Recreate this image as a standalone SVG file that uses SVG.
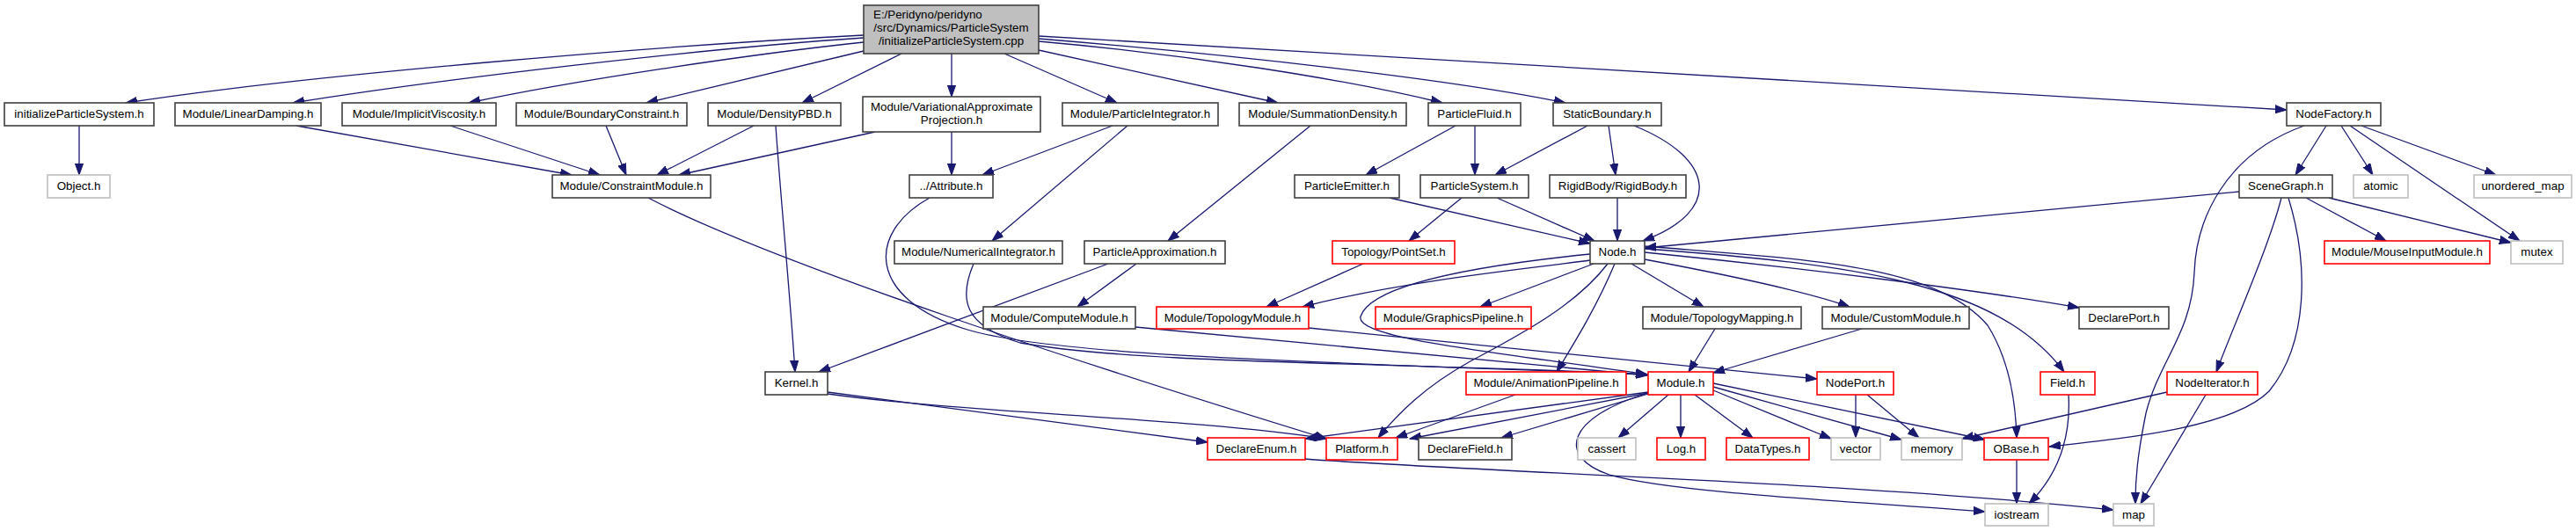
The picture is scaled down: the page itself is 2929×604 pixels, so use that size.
<svg xmlns="http://www.w3.org/2000/svg" width="2929" height="604" viewBox="0 0 2929 604">
<style>
text{font-family:"Liberation Sans",Arial,sans-serif;font-size:13.33px;text-anchor:middle;fill:#000}
.n rect{fill:#fff;stroke:#404040;stroke-width:1.6}
.r rect{fill:#fff;stroke:#f00;stroke-width:1.6}
.g rect{fill:#fff;stroke:#bfbfbf;stroke-width:1.6}
.top rect{fill:#bfbfbf;stroke:#404040;stroke-width:1.6}
#edges path{fill:none;stroke:#191970;stroke-width:1.3;marker-end:url(#ah)}
</style>
<defs>
<marker id="ah" markerWidth="14" markerHeight="10" refX="13" refY="5" orient="auto" markerUnits="userSpaceOnUse">
<path d="M0,0.4 L13,5 L0,9.6 z" fill="#191970" stroke="#191970" stroke-width="1"/>
</marker>
</defs>
<rect width="2929" height="604" fill="#fff"/>
<g id="edges">
<path d="M982,40 C750,52 350,85 143,117"/>
<path d="M982,43 C800,55 500,90 333,117"/>
<path d="M982,48 C850,62 650,92 533,117"/>
<path d="M982,58 L735,117"/>
<path d="M1025,61 L912,117"/>
<path d="M1082,61 L1082,110"/>
<path d="M1142,61 L1270,117"/>
<path d="M1181,57 L1453,117"/>
<path d="M1181,47 C1350,62 1530,90 1640,117"/>
<path d="M1181,44 C1400,62 1650,90 1780,117"/>
<path d="M1181,41 L2600,125"/>
<path d="M90,143 L90,199"/>
<path d="M337,143 L650,199"/>
<path d="M512,143 L682,199"/>
<path d="M689,143 L712,199"/>
<path d="M857,143 L747,199"/>
<path d="M995,150 L772,199"/>
<path d="M882,143 C888,230 898,330 904,423"/>
<path d="M1082,150 L1082,199"/>
<path d="M1265,143 L1117,199"/>
<path d="M1282,143 L1128,274"/>
<path d="M1490,143 L1328,274"/>
<path d="M1655,143 L1553,199"/>
<path d="M1677,143 L1677,199"/>
<path d="M1805,143 L1700,199"/>
<path d="M1829,143 L1837,199"/>
<path d="M1858,143 C1950,180 1960,240 1868,274"/>
<path d="M2645,143 L2610,199"/>
<path d="M2662,143 L2698,199"/>
<path d="M2685,143 L2838,199"/>
<path d="M2672,143 L2865,274"/>
<path d="M2620,143 C2530,175 2497,250 2495,310 C2492,380 2455,410 2440,470 C2430,520 2428,545 2428,573"/>
<path d="M2546,218 L1870,282"/>
<path d="M2622,225 L2713,274"/>
<path d="M2648,225 L2855,276"/>
<path d="M2594,225 C2580,280 2540,370 2520,423"/>
<path d="M2602,225 C2625,300 2625,390 2580,445 C2540,485 2430,497 2330,508"/>
<path d="M737,225 C880,300 1250,420 1508,499"/>
<path d="M1057,225 C985,265 985,340 1100,375 C1200,405 1500,412 1873,426"/>
<path d="M1107,300 C1090,340 1095,370 1160,390 C1300,415 1600,412 1873,426"/>
<path d="M1580,225 L1808,277"/>
<path d="M1702,225 L1813,274"/>
<path d="M1662,225 L1602,274"/>
<path d="M1839,225 L1839,274"/>
<path d="M1292,300 L1225,349"/>
<path d="M1260,300 L931,423"/>
<path d="M1550,300 L1440,349"/>
<path d="M1808,296 C1760,303 1600,318 1481,349"/>
<path d="M1812,300 L1683,349"/>
<path d="M1855,300 L1937,349"/>
<path d="M1870,295 C1950,310 2050,330 2103,349"/>
<path d="M1870,287 C2050,305 2250,330 2364,350"/>
<path d="M1836,300 C1815,350 1790,390 1770,423"/>
<path d="M1828,300 C1790,350 1720,385 1670,412 C1620,440 1590,470 1567,498"/>
<path d="M1808,289 C1700,300 1560,320 1547,360 C1540,385 1700,400 1873,426"/>
<path d="M1870,283 C2100,300 2270,320 2347,423"/>
<path d="M1870,280 C2050,295 2200,300 2260,370 C2285,410 2292,460 2293,498"/>
<path d="M1291,372 L1873,427"/>
<path d="M1488,373 L2066,431"/>
<path d="M1950,374 L1920,423"/>
<path d="M2117,374 L1948,424"/>
<path d="M1723,449 L1587,498"/>
<path d="M1874,446 L1484,499"/>
<path d="M1874,447 L1603,499"/>
<path d="M1874,448 L1707,498"/>
<path d="M1897,449 L1840,498"/>
<path d="M1911,449 L1911,498"/>
<path d="M1927,449 L1993,498"/>
<path d="M1948,444 L2082,499"/>
<path d="M1948,440 L2162,500"/>
<path d="M1948,436 L2257,500"/>
<path d="M1874,447 C1780,475 1770,520 1830,540 C1900,560 2100,570 2257,582"/>
<path d="M2110,449 L2110,498"/>
<path d="M2123,449 L2182,498"/>
<path d="M2352,449 C2355,500 2340,540 2307,573"/>
<path d="M2293,523 L2293,573"/>
<path d="M2464,446 L2231,499"/>
<path d="M2508,449 L2434,573"/>
<path d="M1483,522 C1700,538 2100,548 2403,580"/>
<path d="M941,446 L1373,503"/>
<path d="M941,448 C1100,470 1350,475 1508,499"/>
</g>
<g id="n_top" class="top"><rect x="982" y="6" width="199" height="55"/><text x="993" y="21" style="text-anchor:start">E:/Peridyno/peridyno</text><text x="1081.5" y="36">/src/Dynamics/ParticleSystem</text><text x="1081.5" y="51">/initializeParticleSystem.cpp</text></g>
<g id="n_initps" class="n"><rect x="5" y="117" width="170" height="26"/><text x="90" y="133.5">initializeParticleSystem.h</text></g>
<g id="n_lineardamping" class="n"><rect x="199" y="117" width="166" height="26"/><text x="282" y="133.5">Module/LinearDamping.h</text></g>
<g id="n_implicitvisc" class="n"><rect x="389" y="117" width="175" height="26"/><text x="476.5" y="133.5">Module/ImplicitViscosity.h</text></g>
<g id="n_boundary" class="n"><rect x="587" y="117" width="194" height="26"/><text x="684" y="133.5">Module/BoundaryConstraint.h</text></g>
<g id="n_densitypbd" class="n"><rect x="805" y="117" width="151" height="26"/><text x="880.5" y="133.5">Module/DensityPBD.h</text></g>
<g id="n_vap" class="n"><rect x="981" y="110" width="202" height="40"/><text x="1082" y="126">Module/VariationalApproximate</text><text x="1082" y="141">Projection.h</text></g>
<g id="n_pintegrator" class="n"><rect x="1208" y="117" width="177" height="26"/><text x="1296.5" y="133.5">Module/ParticleIntegrator.h</text></g>
<g id="n_summation" class="n"><rect x="1409" y="117" width="190" height="26"/><text x="1504" y="133.5">Module/SummationDensity.h</text></g>
<g id="n_pfluid" class="n"><rect x="1624" y="117" width="105" height="26"/><text x="1676.5" y="133.5">ParticleFluid.h</text></g>
<g id="n_staticb" class="n"><rect x="1766" y="117" width="123" height="26"/><text x="1827.5" y="133.5">StaticBoundary.h</text></g>
<g id="n_nodefactory" class="n"><rect x="2600" y="117" width="107" height="26"/><text x="2653.5" y="133.5">NodeFactory.h</text></g>
<g id="n_object" class="g"><rect x="54" y="199" width="71" height="26"/><text x="89.5" y="215.5">Object.h</text></g>
<g id="n_constraint" class="n"><rect x="628" y="199" width="180" height="26"/><text x="718" y="215.5">Module/ConstraintModule.h</text></g>
<g id="n_attribute" class="n"><rect x="1034" y="199" width="95" height="26"/><text x="1081.5" y="215.5">../Attribute.h</text></g>
<g id="n_pemitter" class="n"><rect x="1472" y="199" width="119" height="26"/><text x="1531.5" y="215.5">ParticleEmitter.h</text></g>
<g id="n_psystem" class="n"><rect x="1615" y="199" width="123" height="26"/><text x="1676.5" y="215.5">ParticleSystem.h</text></g>
<g id="n_rigidbody" class="n"><rect x="1762" y="199" width="155" height="26"/><text x="1839.5" y="215.5">RigidBody/RigidBody.h</text></g>
<g id="n_scenegraph" class="n"><rect x="2546" y="199" width="106" height="26"/><text x="2599" y="215.5">SceneGraph.h</text></g>
<g id="n_atomic" class="g"><rect x="2676" y="199" width="62" height="26"/><text x="2707" y="215.5">atomic</text></g>
<g id="n_umap" class="g"><rect x="2813" y="199" width="111" height="26"/><text x="2868.5" y="215.5">unordered_map</text></g>
<g id="n_numint" class="n"><rect x="1017" y="274" width="191" height="26"/><text x="1112.5" y="290.5">Module/NumericalIntegrator.h</text></g>
<g id="n_papprox" class="n"><rect x="1233" y="274" width="160" height="26"/><text x="1313" y="290.5">ParticleApproximation.h</text></g>
<g id="n_pointset" class="r"><rect x="1515" y="274" width="139" height="26"/><text x="1584.5" y="290.5">Topology/PointSet.h</text></g>
<g id="n_node" class="n"><rect x="1808" y="274" width="62" height="26"/><text x="1839" y="290.5">Node.h</text></g>
<g id="n_mouse" class="r"><rect x="2643" y="274" width="188" height="26"/><text x="2737" y="290.5">Module/MouseInputModule.h</text></g>
<g id="n_mutex" class="g"><rect x="2855" y="274" width="59" height="26"/><text x="2884.5" y="290.5">mutex</text></g>
<g id="n_compute" class="n"><rect x="1118" y="349" width="173" height="25"/><text x="1204.5" y="365.5">Module/ComputeModule.h</text></g>
<g id="n_topomodule" class="r"><rect x="1315" y="349" width="173" height="25"/><text x="1401.5" y="365.5">Module/TopologyModule.h</text></g>
<g id="n_graphics" class="r"><rect x="1564" y="349" width="177" height="25"/><text x="1652.5" y="365.5">Module/GraphicsPipeline.h</text></g>
<g id="n_topomapping" class="n"><rect x="1868" y="349" width="180" height="25"/><text x="1958" y="365.5">Module/TopologyMapping.h</text></g>
<g id="n_custom" class="n"><rect x="2072" y="349" width="167" height="25"/><text x="2155.5" y="365.5">Module/CustomModule.h</text></g>
<g id="n_declareport" class="n"><rect x="2364" y="349" width="102" height="25"/><text x="2415" y="365.5">DeclarePort.h</text></g>
<g id="n_kernel" class="n"><rect x="870" y="423" width="71" height="26"/><text x="905.5" y="439.5">Kernel.h</text></g>
<g id="n_animation" class="r"><rect x="1667" y="423" width="182" height="26"/><text x="1758" y="439.5">Module/AnimationPipeline.h</text></g>
<g id="n_module" class="r"><rect x="1874" y="423" width="74" height="26"/><text x="1911" y="439.5">Module.h</text></g>
<g id="n_nodeport" class="r"><rect x="2066" y="423" width="87" height="26"/><text x="2109.5" y="439.5">NodePort.h</text></g>
<g id="n_field" class="r"><rect x="2320" y="423" width="62" height="26"/><text x="2351" y="439.5">Field.h</text></g>
<g id="n_nodeiter" class="r"><rect x="2464" y="423" width="103" height="26"/><text x="2515.5" y="439.5">NodeIterator.h</text></g>
<g id="n_declareenum" class="r"><rect x="1373" y="498" width="111" height="25"/><text x="1428.5" y="514.5">DeclareEnum.h</text></g>
<g id="n_platform" class="r"><rect x="1508" y="498" width="81" height="25"/><text x="1548.5" y="514.5">Platform.h</text></g>
<g id="n_declarefield" class="n"><rect x="1613" y="498" width="106" height="25"/><text x="1666" y="514.5">DeclareField.h</text></g>
<g id="n_cassert" class="g"><rect x="1794" y="498" width="66" height="25"/><text x="1827" y="514.5">cassert</text></g>
<g id="n_log" class="r"><rect x="1884" y="498" width="55" height="25"/><text x="1911.5" y="514.5">Log.h</text></g>
<g id="n_datatypes" class="r"><rect x="1963" y="498" width="94" height="25"/><text x="2010" y="514.5">DataTypes.h</text></g>
<g id="n_vector" class="g"><rect x="2082" y="498" width="56" height="25"/><text x="2110" y="514.5">vector</text></g>
<g id="n_memory" class="g"><rect x="2162" y="498" width="69" height="25"/><text x="2196.5" y="514.5">memory</text></g>
<g id="n_obase" class="r"><rect x="2256" y="498" width="73" height="25"/><text x="2292.5" y="514.5">OBase.h</text></g>
<g id="n_iostream" class="g"><rect x="2257" y="573" width="72" height="25"/><text x="2293" y="589.5">iostream</text></g>
<g id="n_map" class="g"><rect x="2403" y="573" width="46" height="25"/><text x="2426" y="589.5">map</text></g>
</svg>
